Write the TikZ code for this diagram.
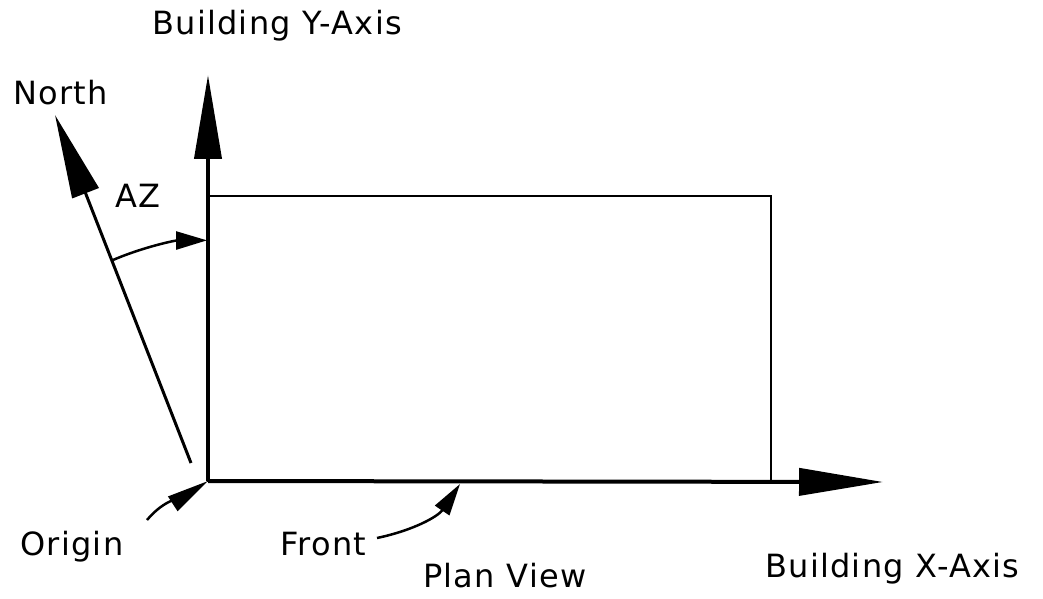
\documentclass[tikz,border=0pt]{standalone}
\usepackage{fontspec}
\setmainfont{DejaVu Sans}[LetterSpace=4]
\usetikzlibrary{arrows.meta}
\tikzset{
  lbl/.style={inner sep=0pt, anchor=base west, font=\fontsize{32}{38}\selectfont},
  axisline/.style={line width=4pt, -{Triangle[length=84pt,width=27pt]}},
  northline/.style={line width=3pt, -{Triangle[length=84pt,width=28pt]}},
  pointer/.style={line width=2.5pt, -{Triangle[length=42pt,width=17pt]}}
}

\begin{document}
\begin{tikzpicture}[x=1pt,y=1pt]
            \useasboundingbox (0,0) rectangle (1043,598);
            % axes and building outline
            \coordinate (O) at (208,117);
            \coordinate (ytip) at (208,523);
            \coordinate (xtip) at (883,116);
            \coordinate (corner) at (771,402);
            \draw[line width=2pt] (O) rectangle (corner);
            \draw[axisline] (O)--(ytip);
            \draw[axisline] (O)--(xtip);
            % north direction and azimuth
            \coordinate (ntail) at (191,135);
            \coordinate (ntip) at (55,483);
            \draw[northline] (ntail)--(ntip);
            \coordinate (azs) at (113,338);
            \draw[line width=2.5pt, -{Triangle[length=31pt,width=18pt]}] (azs) arc[start angle=113.3, end angle=90.3, radius=241];
            % labels
            \node[lbl] (ylab) at (152,563) {Building Y-Axis};
            \node[lbl] (north) at (13,493) {North};
            \node[lbl] (az) at (115,391) {AZ};
            \node[lbl] (origin) at (20,43) {Origin};
            \node[lbl] (front) at (280,43) {Front};
            \node[lbl] (plan) at (423,11) {Plan View};
            \node[lbl] (xlab) at (765,21) {Building X-Axis};
            % pointers
            \coordinate (otail) at (147,78);
            \coordinate (ftail) at (377,60);
            \coordinate (fhead) at (460,114);
            \draw[pointer] (otail) to[out=50,in=213] (O);
            \draw[pointer, -{Triangle[length=32pt,width=17pt]}] (ftail) to[out=12,in=236] (fhead);
        \end{tikzpicture}
\end{document}
